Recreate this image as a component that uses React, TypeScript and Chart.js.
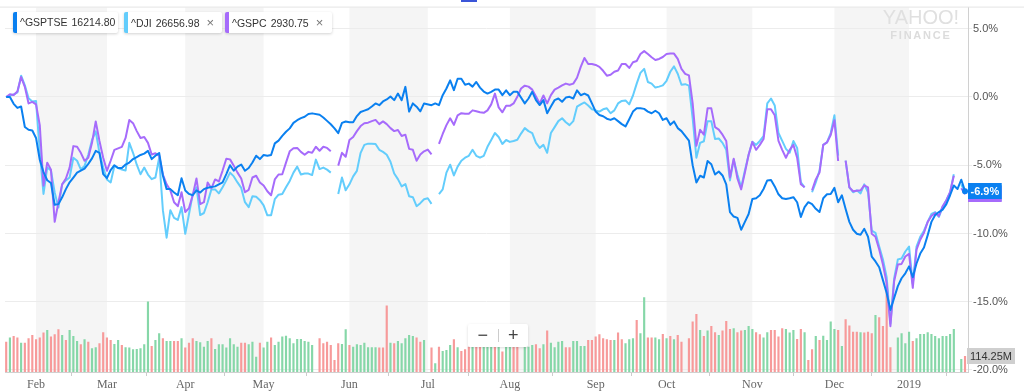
import React, { useEffect, useRef } from "react";
import { Chart, registerables } from "chart.js";

Chart.register(...registerables);

// ---- Data (trading-day index 0 = 22 Jan 2018 ... 257 = 23 Jan 2019) ----
const MONTH_IDX = [8, 27, 48, 69, 92, 113, 135, 158, 177, 200, 222, 242];
const MONTH_LABELS = ["Feb", "Mar", "Apr", "May", "Jun", "Jul", "Aug", "Sep", "Oct", "Nov", "Dec", "2019"];
const Y_TICKS = [-20, -15, -10, -5, 0, 5];

const GSPTSE: (number | null)[] = [
  0.0, 0.0, -0.5, -0.8, -0.7, -2.2, -2.4, -2.45, -3.0, -4.6,
  -5.5, -6.1, -6.3, -7.9, -7.85, -7.35, -6.75, -6.25, -5.9, -5.55,
  -5.4, -5.25, -4.9, -4.5, -3.95, -4.1, -5.65, -5.95, -5.35, -5.0,
  -5.2, -5.2, -4.95, -4.8, -4.55, -4.4, -4.25, -4.15, -3.95, -4.55,
  -4.3, -4.1, -5.75, -6.75, -6.75, -7.0, -7.2, -5.95, -6.85, -7.1,
  -7.2, -6.85, -7.0, -6.75, -6.65, -6.6, -6.55, -6.4, -6.25, -5.65,
  -5.0, -5.4, -5.1, -4.95, -5.4, -5.2, -4.8, -4.3, -4.55, -4.25,
  -4.3, -4.25, -3.4, -3.2, -2.85, -2.55, -2.3, -1.9, -1.7, -1.55,
  -1.45, -1.25, -1.2, null, -1.3, -1.5, -1.75, -2.0, -2.3, -2.65,
  -1.9, -1.8, -1.85, -1.85, -1.4, -1.1, -1.0, -0.9, -0.7, -0.47,
  -0.6, -0.33, -0.18, 0.04, -0.23, 0.25, -0.23, 0.74, -1.07, -0.47,
  -0.71, -1.05, -0.47, null, -0.6, -0.47, -0.6, 0.13, 0.62, 1.22,
  0.5, 1.34, 1.34, 0.9, 0.98, 0.76, 1.1, 0.69, 0.4, 0.25,
  0.38, 0.54, 0.54, 0.14, 0.49, 0.13, 0.38, 0.38, null, -0.47,
  -0.11, 0.38, -0.23, -0.59, -0.23, -1.19, -0.69, -0.23, -0.11, -0.35,
  -0.04, 0.01, -0.11, 0.49, 0.13, 0.25, 0.11, -0.47, -1.07, -1.32,
  -1.41, -1.59, -1.68, -1.56, -1.77, -1.99, -2.16, -1.63, -1.07, -0.83,
  -0.83, -0.87, -1.07, -1.19, -1.01, -1.19, -1.68, -1.56, -2.04, -1.79,
  -2.28, -2.5, null, -3.2, -5.0, -6.26, -5.77, -5.9, -4.69, -4.93,
  -5.68, -5.46, -5.75, -6.4, -8.43, -8.76, -8.86, -9.73, -9.15, -8.57,
  -7.47, -7.42, -7.2, -6.74, -6.11, -6.08, -6.55, -7.13, -7.42, -7.47,
  -7.42, -7.34, -7.71, -8.79, -8.07, -7.71, -7.85, -8.19, -8.43, -7.42,
  -7.13, -7.11, -6.66, -7.71, -7.2, -8.21, -9.15, -9.73, -10.02, -10.09,
  -9.66, -10.24, -11.69, -12.05, -12.48, -13.42, -14.36, -15.6, null, -13.86,
  -13.28, -12.92, -12.41, -13.2, -12.2, -11.47, -11.03, -10.12, -9.15, -8.65,
  -8.43, -8.25, -7.85, -7.2, -6.48, -6.74, -6.06, -6.9,
];

const DJI: (number | null)[] = [
  0.0, 0.1, 0.18, 0.33, 1.56, 0.85, -0.1, -0.33, -0.3, -4.0,
  -7.1, -5.17, -5.39, -7.0, -8.1, -6.4, -6.11, -5.9, -4.45, -4.67,
  -5.3, -5.05, -4.23, -3.15, -2.52, -4.09, -5.17, -6.04, -6.26, -5.05,
  -5.21, -5.32, -5.39, -3.36, -4.09, -4.96, -5.66, -5.17, -5.68, -6.02,
  -5.9, -4.45, -8.29, -10.31, -8.29, -8.86, -9.01, -8.07, -10.02, -8.57,
  -7.13, -6.62, -8.65, -8.5, -7.71, -6.77, -6.77, -7.06, -6.62, -6.11,
  -5.54, -5.82, -6.26, -6.66, -7.71, -8.07, -7.27, -7.31, -7.56, -7.94,
  -8.67, -8.67, -7.49, -7.16, -7.11, -6.62, -6.15, -5.54, -5.1, -5.68,
  -5.61, -5.61, -5.72, -4.59, -5.28, -5.17, -5.32, -5.54, null, -7.11,
  -5.9, -6.84, -6.4, -5.82, -5.41, -4.09, -3.51, -3.42, -3.42, -3.44,
  -3.87, -4.02, -4.23, -4.74, -5.61, -6.02, -6.55, -6.38, -7.27, -7.34,
  -8.0, -7.78, -7.49, -7.42, -7.83, null, -7.11, -6.77, -5.54, -4.96,
  -5.75, -5.1, -4.67, -4.45, -4.31, -3.87, -4.31, -4.45, -4.31, -3.65,
  -3.15, -2.64, -2.93, -3.44, -3.15, -3.29, -3.22, -3.13, -2.68, -2.28,
  -2.5, -2.64, -3.36, -3.73, -3.51, -4.09, -2.64, -2.21, -1.77, -1.56,
  -1.85, -2.06, -1.77, -0.71, -0.54, -0.4, -0.62, -0.9, -0.98, -1.07,
  -0.9, -0.83, -1.19, -0.98, -0.47, -0.29, -0.25, -0.54, 0.11, 0.98,
  1.77, 2.06, 1.1, 0.98, 0.69, 0.76, 0.85, 1.19, 1.85, 2.24,
  1.7, 0.9, 0.94, 0.83, -1.56, -4.45, -3.36, -3.24, -1.77, -1.77,
  -3.08, -3.04, -3.36, -3.87, -6.11, -4.59, -5.68, -6.62, -5.39, -4.23,
  -3.29, -3.51, -3.22, -2.86, -0.47, -0.11, -0.62, -2.64, -3.22, -3.8,
  -4.09, -3.22, -3.73, -6.26, -6.62, null, -6.98, -6.26, -5.39, -3.51,
  -3.33, -2.64, -1.34, -4.3, null, -4.67, -6.62, -6.98, -6.84, -7.06,
  -6.4, -6.98, -9.8, -9.95, -10.96, -11.9, -13.21, -16.6, -13.3, -11.9,
  -11.83, -11.32, -10.96, -13.7, -10.96, -10.24, -9.8, -9.15, -8.57, -8.43,
  -8.79, -8.07, -7.56, -6.98, -5.66, null, -6.4, -7.0,
];

const GSPC: (number | null)[] = [
  0.0, 0.2, 0.14, 0.4, 1.46, 0.74, -0.47, -0.36, -0.54, -2.06,
  -6.5, -4.81, -5.32, -9.15, -7.71, -6.4, -5.97, -5.17, -3.6, -3.65,
  -4.09, -4.67, -4.45, -3.36, -1.79, -3.22, -4.45, -5.41, -4.67, -3.87,
  -3.76, -3.65, -3.0, -1.68, -1.92, -2.5, -3.0, -2.93, -3.36, -4.21,
  -4.12, -4.31, -5.68, -6.4, -6.84, -7.71, -8.0, -6.98, -8.43, -8.14,
  -7.2, -5.97, -7.85, -7.71, -6.26, -6.69, -6.04, -6.19, -5.39, -4.52,
  -4.57, -5.03, -5.54, -5.97, -6.98, -6.8, -5.9, -5.77, -6.26, -6.48,
  -6.91, -7.2, -6.04, -5.68, -5.66, -4.81, -3.98, -3.76, -3.73, -4.02,
  -4.23, -4.02, -4.09, -3.65, -3.94, -3.65, -3.73, -3.97, null, -5.03,
  -4.09, -4.38, -3.15, -2.93, -2.5, -2.13, -1.92, -1.88, -1.77, -1.68,
  -1.99, -1.79, -1.99, -2.28, -2.5, -2.42, -2.86, -2.76, -3.8, -3.87,
  -4.67, -4.21, -3.98, -3.85, -4.21, null, -3.44, -2.71, -2.06, -1.56,
  -2.04, -1.34, -1.19, -1.23, -1.23, -0.98, -1.05, -1.12, -1.16, -0.98,
  -0.54, 0.25, -0.76, -1.12, -0.65, -0.65, -0.47, 0.01, 0.62, 0.83,
  0.76, 0.54, 0.04, -0.47, 0.11, -0.47, 0.14, 0.54, 0.69, 0.85,
  0.98, 0.9, 0.98, 1.41, 2.21, 2.86, 2.42, 2.42, 2.35, 2.21,
  1.92, 1.56, 1.63, 1.85, 1.94, 2.42, 2.42, 2.13, 2.55, 2.64,
  3.15, 3.36, 3.15, 2.91, 2.71, 2.79, 2.93, 3.15, 3.18, 3.18,
  2.79, 2.06, 1.7, 1.58, -0.47, -3.58, -2.4, -2.76, -0.83, -0.83,
  -2.21, -2.39, -2.76, -3.22, -5.9, -4.52, -5.97, -6.77, -5.54, -4.23,
  -3.29, -3.87, -3.51, -3.08, -0.9, -0.9, -1.34, -3.22, -3.87, -4.45,
  -3.87, -3.51, -4.45, -6.4, -6.62, null, -6.84, -6.04, -5.54, -3.51,
  -3.33, -2.79, -1.7, -4.69, null, -4.67, -6.62, -6.91, -6.87, -6.84,
  -6.48, -6.62, -10.02, -10.24, -11.18, -12.27, -13.64, -16.8, -13.5, -12.27,
  -12.23, -11.69, -11.5, -13.98, -11.18, -10.46, -9.95, -9.15, -8.72, -8.5,
  -8.72, -8.0, -7.56, -6.98, -5.77, null, -6.69, -7.13,
];

// Volume of ^GSPTSE, millions of shares
const VOLUME: (number | null)[] = [
  218, 248, 260, 248, 211, 211, 243, 267, 235, 248,
  284, 303, 255, 272, 308, 267, 231, 303, 260, 223,
  199, 235, 218, 170, 177, 206, 286, 248, 231, 201,
  231, 194, 177, 175, 163, 165, 170, 199, 510, 187,
  231, 279, 243, 223, 223, 223, 223, 243, 175, 211,
  243, 223, 214, 182, 223, 243, 165, 199, 199, 175,
  243, 199, 182, 211, 211, 199, 218, 109, 211, 175,
  218, 248, 194, 218, 255, 262, 243, 206, 238, 238,
  223, 218, 194, null, 243, 206, 218, 194, 85, 206,
  201, 308, 194, 182, 199, 194, 211, 177, 177, 177,
  175, 175, 481, 211, 206, 223, 206, 243, 267, 260,
  248, 218, 231, null, 175, 61, 182, 150, 158, 194,
  235, 177, 150, 163, 182, 187, 194, 182, 194, 187,
  182, 194, 187, 146, 194, 194, 194, 206, null, 182,
  182, 194, 199, 170, 199, 299, 211, 177, 218, 223,
  177, 177, 223, 223, 187, 187, 231, 231, 255, 272,
  243, 235, 231, 231, 284, 235, 206, 235, 243, 376,
  279, 541, 248, 248, 248, 235, 274, 243, 260, 235,
  267, 218, null, 243, 364, 420, 303, 260, 299, 332,
  286, 267, 299, 369, 311, 316, 286, 299, 303, 332,
  311, 286, 272, 248, 286, 303, 303, 255, 316, 311,
  284, 303, 238, 311, 286, 85, 163, 260, 231, 262,
  231, 364, 311, 303, 187, 381, 335, 291, 291, 286,
  284, 291, 279, 413, 396, 333, 667, 177, null, 248,
  279, 206, 291, 223, 243, 274, 274, 286, 274, 260,
  243, 260, 260, 274, 311, null, 92, 114.25,
];

// 1 = index closed up that day, 0 = down
const VOLUME_UP: number[] = [
  0, 1, 0, 0, 1, 0, 0, 0, 0, 0,
  0, 1, 0, 0, 0, 1, 0, 1, 1, 1,
  0, 1, 0, 1, 1, 0, 0, 0, 0, 1,
  1, 0, 1, 1, 1, 1, 1, 1, 1, 0,
  1, 1, 0, 1, 1, 0, 0, 1, 0, 0,
  0, 1, 1, 1, 1, 0, 1, 1, 1, 1,
  1, 1, 1, 0, 0, 1, 1, 1, 0, 1,
  1, 0, 1, 1, 1, 1, 1, 1, 1, 1,
  1, 1, 1, 0, 0, 0, 0, 0, 0, 0,
  1, 1, 0, 1, 1, 1, 1, 1, 1, 1,
  0, 0, 0, 1, 0, 1, 1, 1, 1, 1,
  0, 0, 1, 0, 0, 1, 0, 1, 1, 1,
  0, 1, 0, 0, 0, 1, 0, 0, 1, 1,
  1, 0, 1, 0, 1, 1, 0, 0, 0, 1,
  1, 1, 0, 0, 1, 0, 1, 1, 1, 1,
  0, 0, 1, 1, 1, 1, 0, 0, 0, 0,
  0, 0, 0, 1, 0, 0, 1, 1, 1, 0,
  1, 1, 0, 0, 1, 1, 0, 1, 0, 1,
  0, 0, 0, 0, 0, 0, 1, 0, 1, 0,
  0, 1, 0, 0, 0, 1, 0, 0, 1, 1,
  1, 0, 0, 1, 1, 0, 0, 0, 0, 1,
  1, 1, 0, 0, 1, 0, 0, 1, 0, 1,
  1, 1, 1, 0, 1, 0, 0, 0, 0, 1,
  0, 0, 0, 1, 0, 0, 0, 0, 0, 1,
  1, 1, 1, 0, 1, 1, 1, 1, 1, 1,
  1, 1, 1, 1, 1, 0, 1, 0,
];

const SERIES_NAMES = ["^GSPTSE", "^DJI", "^GSPC"];
const SERIES_LAST_PRICE = ["16214.80", "26656.98", "2930.75"];

// ---- styling ----
const C_TSX = "#0a80f0";
const C_DJI = "#63cdfc";
const C_GSPC = "#a66bfb";
const C_UP = "#86d7a8";
const C_DOWN = "#f79a9a";
const SANS = "'Liberation Sans', Arial, Helvetica, sans-serif";
const SERIF = "'Liberation Serif', 'Times New Roman', serif";

const toPts = (arr: (number | null)[]) => arr.map((v, i) => ({ x: i, y: v }));
const lastOf = (arr: (number | null)[]) => {
  for (let i = arr.length - 1; i >= 0; i--) if (arr[i] !== null) return { i, v: arr[i] as number };
  return { i: 0, v: 0 };
};

const overlayPlugin = {
  id: "yahooOverlay",
  beforeDraw(chart: any) {
    const { ctx, chartArea } = chart;
    const x = chart.scales.x;
    ctx.save();
    ctx.fillStyle = "#f5f5f5";
    for (let k = 0; k < MONTH_IDX.length; k += 2) {
      const a = x.getPixelForValue(MONTH_IDX[k]);
      const b = k + 1 < MONTH_IDX.length ? x.getPixelForValue(MONTH_IDX[k + 1]) : chartArea.right;
      ctx.fillRect(a, chartArea.top, b - a, chartArea.bottom - chartArea.top);
    }
    ctx.restore();
  },
  afterDraw(chart: any) {
    const { ctx, chartArea } = chart;
    const x = chart.scales.x;
    const y = chart.scales.y;
    const yv = chart.scales.yVol;
    ctx.save();
    // top frame line
    ctx.strokeStyle = "#e4e4e4";
    ctx.lineWidth = 1;
    ctx.beginPath();
    ctx.moveTo(0, chartArea.top - 0.5);
    ctx.lineTo(chart.width, chartArea.top - 0.5);
    ctx.stroke();

    // last value labels
    const labs: [(number | null)[], string][] = [
      [DJI, C_DJI],
      [GSPC, C_GSPC],
      [GSPTSE, C_TSX],
    ];
    ctx.font = `bold 11px ${SANS}`;
    ctx.textAlign = "center";
    ctx.textBaseline = "middle";
    for (const [arr, col] of labs) {
      const { v } = lastOf(arr);
      const py = Math.round(y.getPixelForValue(v));
      const txt = v.toFixed(1) + "%";
      const w = ctx.measureText(txt).width + 5;
      ctx.fillStyle = col;
      ctx.fillRect(chartArea.right, py - 8, w, 16);
      ctx.fillStyle = "#ffffff";
      ctx.fillText(txt, chartArea.right + w / 2, py + 0.5);
    }
    // end dot of main series
    const lt = lastOf(GSPTSE);
    ctx.fillStyle = C_TSX;
    ctx.beginPath();
    ctx.arc(x.getPixelForValue(lt.i), y.getPixelForValue(lt.v), 3, 0, Math.PI * 2);
    ctx.fill();

    // volume label
    const lv = lastOf(VOLUME);
    const pyv = Math.round(yv.getPixelForValue(lv.v));
    ctx.font = `11px ${SANS}`;
    const vt = lv.v.toFixed(2) + "M";
    const vw = ctx.measureText(vt).width + 6;
    ctx.fillStyle = "#cfcfcf";
    ctx.fillRect(chartArea.right - 1, pyv - 8, vw, 16);
    ctx.fillStyle = "#333333";
    ctx.fillText(vt, chartArea.right - 1 + vw / 2, pyv + 0.5);
    ctx.restore();
  },
};

export default function App() {
  const ref = useRef<HTMLCanvasElement | null>(null);

  useEffect(() => {
    if (!ref.current) return;
    Chart.defaults.font.family = SANS;
    const chart = new Chart(ref.current, {
      type: "line",
      data: {
        datasets: [
          {
            type: "line",
            label: SERIES_NAMES[0],
            data: toPts(GSPTSE) as any,
            borderColor: C_TSX,
            borderWidth: 2,
            pointRadius: 0,
            spanGaps: true,
            borderJoinStyle: "round",
            yAxisID: "y",
            order: 1,
          },
          {
            type: "line",
            label: SERIES_NAMES[2],
            data: toPts(GSPC) as any,
            borderColor: C_GSPC,
            borderWidth: 2,
            pointRadius: 0,
            spanGaps: false,
            borderJoinStyle: "round",
            yAxisID: "y",
            order: 2,
          },
          {
            type: "line",
            label: SERIES_NAMES[1],
            data: toPts(DJI) as any,
            borderColor: C_DJI,
            borderWidth: 2,
            pointRadius: 0,
            spanGaps: false,
            borderJoinStyle: "round",
            yAxisID: "y",
            order: 3,
          },
          {
            type: "bar",
            label: "Volume",
            data: toPts(VOLUME) as any,
            backgroundColor: VOLUME_UP.map((u) => (u ? C_UP : C_DOWN)),
            barThickness: 1.5,
            grouped: false,
            yAxisID: "yVol",
            order: 10,
          } as any,
        ],
      },
      options: {
        animation: false,
        responsive: false,
        devicePixelRatio: 1,
        layout: { padding: { left: 5, top: 3, right: 0, bottom: 0 } },
        plugins: { legend: { display: false }, tooltip: { enabled: false }, title: { display: false } },
        scales: {
          x: {
            type: "linear",
            min: -0.32,
            max: 257.8,
            offset: false,
            grid: { display: true, drawOnChartArea: false, drawTicks: true, tickLength: 4, color: "#cccccc" },
            border: { display: true, color: "#d0d0d0" },
            ticks: {
              autoSkip: false,
              maxRotation: 0,
              padding: 2,
              color: "#666666",
              font: { family: SERIF, size: 12 },
              callback: (v: any) => {
                const k = MONTH_IDX.indexOf(Number(v));
                return k >= 0 ? MONTH_LABELS[k] : "";
              },
            },
            afterBuildTicks: (s: any) => {
              s.ticks = MONTH_IDX.map((v) => ({ value: v }));
            },
            afterFit: (s: any) => {
              s.height = 20;
            },
          },
          y: {
            position: "right",
            min: -20.15,
            max: 6.55,
            grid: { color: "#ececec", drawTicks: true, tickLength: 4 },
            border: { display: true, color: "#d0d0d0" },
            ticks: {
              autoSkip: false,
              padding: 1,
              color: "#555555",
              font: { family: SANS, size: 11 },
              callback: (v: any) => Number(v).toFixed(1) + "%",
            },
            afterBuildTicks: (s: any) => {
              s.ticks = Y_TICKS.map((v) => ({ value: v }));
            },
            afterFit: (s: any) => {
              s.width = 56;
            },
          },
          yVol: {
            display: false,
            position: "left",
            min: 0,
            max: 2650,
          },
        },
      } as any,
      plugins: [overlayPlugin],
    });
    return () => chart.destroy();
  }, []);

  const colors = [C_TSX, C_DJI, C_GSPC];
  const boxLeft = [13, 124, 225];
  const boxWidth = [105, 98, 107];

  return (
    <div
      style={{
        position: "absolute",
        left: 0,
        top: 0,
        width: 1024,
        height: 392,
        overflow: "hidden",
        background: "#ffffff",
      }}
    >
      <canvas ref={ref} width={1024} height={392} style={{ display: "block", width: 1024, height: 392 }} />
      {/* top marker */}
      <div style={{ position: "absolute", left: 461, top: 0, width: 16, height: 2, background: "#3b55d8" }} />
      {/* watermark */}
      <div
        style={{
          position: "absolute",
          left: 880,
          top: 7,
          width: 82,
          textAlign: "center",
          fontFamily: SANS,
          color: "#e0e0e0",
          lineHeight: 1,
          pointerEvents: "none",
        }}
      >
        <div style={{ fontSize: 20, letterSpacing: 0 }}>YAHOO!</div>
        <div style={{ fontSize: 11, fontWeight: "bold", letterSpacing: 1.8, marginTop: 3, color: "#dcdcdc" }}>FINANCE</div>
      </div>
      {/* legend */}
      {SERIES_NAMES.map((name, k) => (
        <div
          key={name}
          style={{
            position: "absolute",
            left: boxLeft[k],
            top: 12,
            width: boxWidth[k],
            height: 21,
            boxSizing: "border-box",
            background: "#ffffff",
            borderLeft: `4px solid ${colors[k]}`,
            borderRadius: 2,
            boxShadow: "0 1px 3px rgba(0,0,0,0.18)",
            fontFamily: SANS,
            fontSize: 10.5,
            lineHeight: "21px",
            color: "#333333",
            paddingLeft: 3,
            whiteSpace: "nowrap",
            overflow: "hidden",
          }}
        >
          {name}
          <span style={{ marginLeft: 4 }}>{SERIES_LAST_PRICE[k]}</span>
          {k > 0 && <span style={{ marginLeft: 7, color: "#777777", fontSize: 13 }}>×</span>}
        </div>
      ))}
      {/* zoom control */}
      <div
        style={{
          position: "absolute",
          left: 468,
          top: 324,
          width: 60,
          height: 23,
          background: "#ffffff",
          borderRadius: 2,
          boxShadow: "0 1px 3px rgba(0,0,0,0.15)",
          display: "flex",
          alignItems: "center",
          fontFamily: SANS,
          color: "#444444",
          fontSize: 18,
        }}
      >
        <div style={{ flex: 1, textAlign: "center", lineHeight: "23px" }}>−</div>
        <div style={{ width: 1, height: 13, background: "#cccccc" }} />
        <div style={{ flex: 1, textAlign: "center", lineHeight: "23px" }}>+</div>
      </div>
    </div>
  );
}
